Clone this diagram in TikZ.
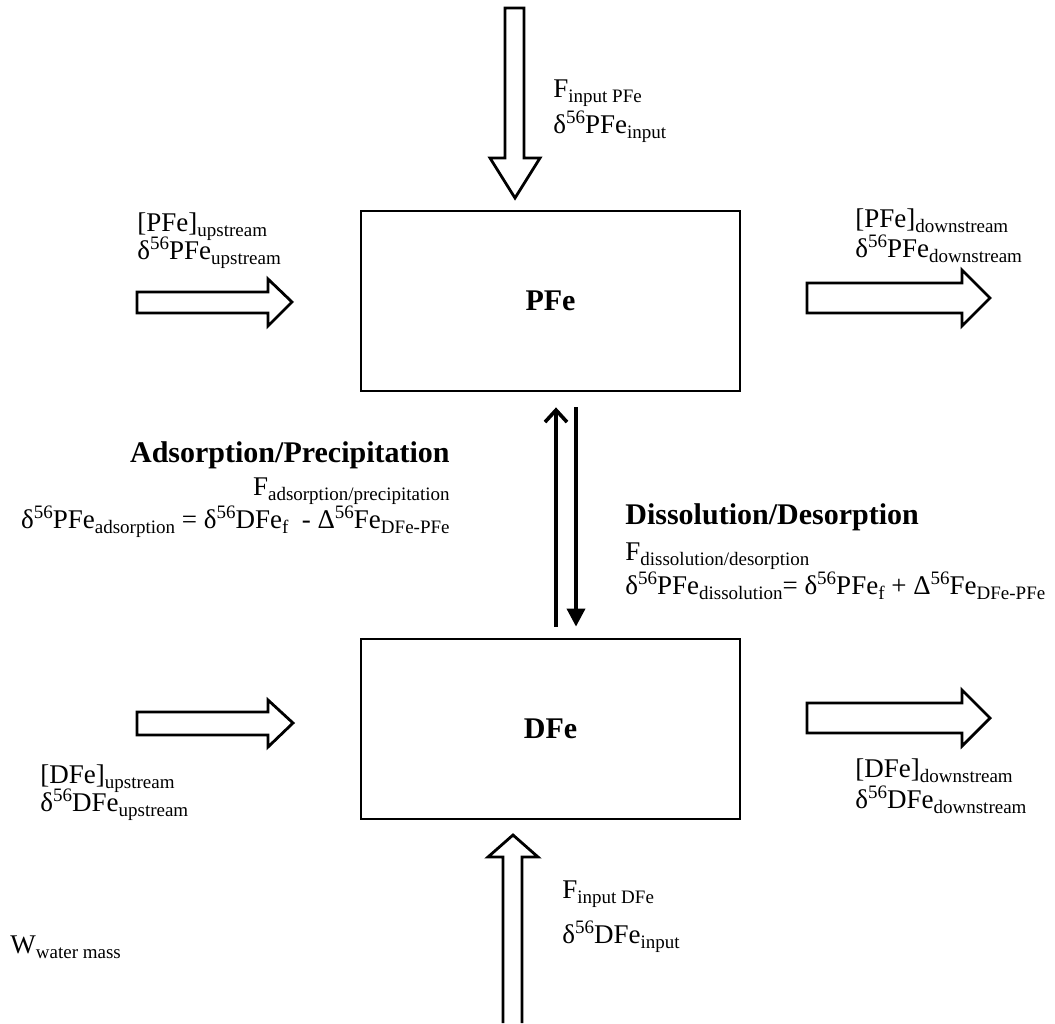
\documentclass[tikz,border=0pt]{standalone}
\usepackage{fontspec}
\setmainfont{Liberation Serif}
\usetikzlibrary{arrows.meta,positioning}

\newcommand{\sbs}[1]{\raisebox{-0.45ex}{\fontsize{9.5}{9.5}\selectfont #1}}
\newcommand{\sps}[1]{\raisebox{0.75ex}{\fontsize{9.5}{9.5}\selectfont #1}}

\begin{document}
\begin{tikzpicture}[x=0.5pt, y=-0.5pt,
  pool/.style={rectangle, draw, line width=1.4pt, minimum width=189.5pt,
    minimum height=90pt, font=\fontsize{15}{18}\selectfont\bfseries},
  txt/.style={inner sep=0pt, font=\fontsize{13.5}{16}\selectfont},
  head/.style={inner sep=0pt, font=\fontsize{15}{18}\selectfont\bfseries},
  flow/.style={draw, line width=1.4pt, fill=white, line join=miter},
  react/.style={line width=1.8pt}
]
\useasboundingbox (0,0) rectangle (1055,1023);

% Reservoirs
\node[pool] (pfe) at (550.5,301) {PFe};
\node[pool] (dfe) at (550.5,729) {DFe};

% Block arrows (inputs and up/downstream)
\draw[flow] (505,8) -- (524,8) -- (524,158) -- (540,158) -- (515,198)
  -- (490,158) -- (505,158) -- cycle;
\draw[flow] (503,1023) -- (503,857) -- (488,857) -- (513,835) -- (538,857)
  -- (522,857) -- (522,1023);
\draw[flow] (137,292) -- (268,292) -- (268,279) -- (292,302) -- (268,326)
  -- (268,313) -- (137,313) -- cycle;
\draw[flow] (807,283) -- (962,283) -- (962,270) -- (990,298) -- (962,326)
  -- (962,313) -- (807,313) -- cycle;
\draw[flow] (137,712) -- (268,712) -- (268,700) -- (293,723) -- (268,747)
  -- (268,735) -- (137,735) -- cycle;
\draw[flow] (807,703) -- (962,703) -- (962,690) -- (990,718) -- (962,746)
  -- (962,733) -- (807,733) -- cycle;

% Exchange between pools
\draw[react, -{Straight Barb[length=6pt, width=11pt, line width=1.8pt]},
  shorten <=5.5pt, shorten >=7.5pt]
  ([xshift=2.75pt]dfe.north) -- ([xshift=2.75pt]pfe.south);
\draw[react, -{Triangle[length=9pt, width=9pt]},
  shorten <=7.5pt, shorten >=5.5pt]
  ([xshift=12.75pt]pfe.south) -- ([xshift=12.75pt]dfe.north);

% Labels
\node[txt, anchor=base west] (inp1) at (553,97) {F\sbs{input PFe}};
\node[txt, anchor=base west] (inp2) at (553,133) {δ\sps{56}PFe\sbs{input}};
\node[txt, anchor=base west] (upp1) at (137,231) {[PFe]\sbs{upstream}};
\node[txt, anchor=base west] (upp2) at (137,259) {δ\sps{56}PFe\sbs{upstream}};
\node[txt, anchor=base west] (dnp1) at (855,227) {[PFe]\sbs{downstream}};
\node[txt, anchor=base west] (dnp2) at (855,257) {δ\sps{56}PFe\sbs{downstream}};

\node[head, anchor=base east] (ads0) at (450,462) {Adsorption/Precipitation};
\node[txt, anchor=base east] (ads1) at (450,495) {F\sbs{adsorption/precipitation}};
\node[txt, anchor=base east] (ads2) at (450,528)
  {δ\sps{56}PFe\sbs{adsorption} = δ\sps{56}DFe\sbs{f}~ - Δ\sps{56}Fe\sbs{DFe-PFe}};
\node[head, anchor=base west] (dis0) at (625,524) {Dissolution/Desorption};
\node[txt, anchor=base west] (dis1) at (625,560) {F\sbs{dissolution/desorption}};
\node[txt, anchor=base west] (dis2) at (625,594)
  {δ\sps{56}PFe\sbs{dissolution}= δ\sps{56}PFe\sbs{f} + Δ\sps{56}Fe\sbs{DFe-PFe}};

\node[txt, anchor=base west] (upd1) at (40,783) {[DFe]\sbs{upstream}};
\node[txt, anchor=base west] (upd2) at (40,811) {δ\sps{56}DFe\sbs{upstream}};
\node[txt, anchor=base west] (dnd1) at (855,777) {[DFe]\sbs{downstream}};
\node[txt, anchor=base west] (dnd2) at (855,808) {δ\sps{56}DFe\sbs{downstream}};
\node[txt, anchor=base west] (ind1) at (562,898) {F\sbs{input DFe}};
\node[txt, anchor=base west] (ind2) at (562,943) {δ\sps{56}DFe\sbs{input}};

\node[txt, anchor=base west] (wm) at (10,953) {W\sbs{water mass}};

\end{tikzpicture}
\end{document}
